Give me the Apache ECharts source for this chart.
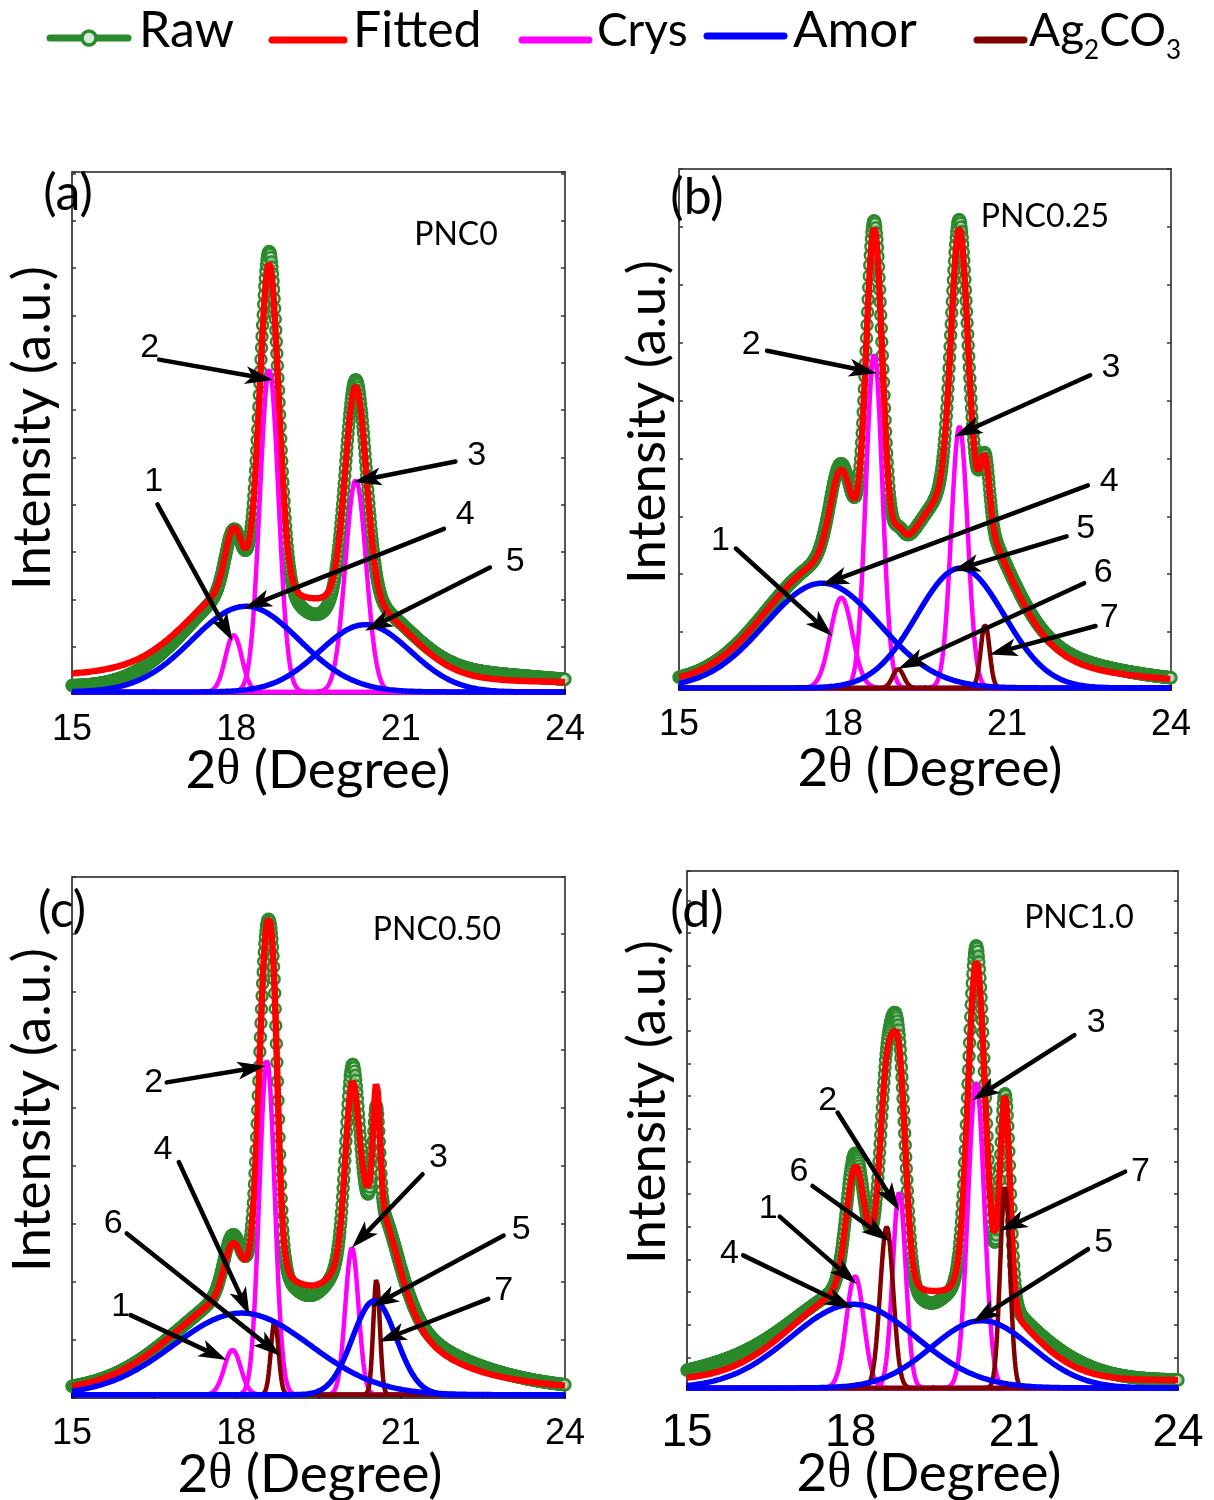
<!DOCTYPE html>
<html><head><meta charset="utf-8">
<script src="https://cdn.jsdelivr.net/npm/echarts@6/dist/echarts.min.js"></script>
<style>html,body{margin:0;padding:0;background:#fff}#c{width:1214px;height:1500px}</style>
</head><body><div id="c"></div>
<script>
// ================= DATA =================
const X_MIN = 15, X_MAX = 24;
const xTicks = [15, 18, 21, 24];
const sampleNames = ['PNC0', 'PNC0.25', 'PNC0.50', 'PNC1.0'];
const panelLetters = ['(a)', '(b)', '(c)', '(d)'];

// Peak components: [centre 2θ (deg), height (a.u.), sigma (deg)]
// (a) PNC0
const aCrys = [[17.95, 140, 0.15], [18.6, 790, 0.17], [20.18, 520, 0.19]];
const aAmor = [[18.17, 210, 0.98], [20.35, 165, 0.83]];
const aAg = [];
const aBase = 12;
const aBgLor = [[17.5, 45, 4.0]];
const aRawDev = [[15.5, -32, 1.3], [18.6, 30, 0.12], [19.45, -40, 0.3], [20.18, 15, 0.15], [22.5, 15, 1.2]];

// (b) PNC0.25
const bCrys = [[17.97, 222, 0.2], [18.57, 819, 0.15], [20.13, 642, 0.15]];
const bAmor = [[17.62, 257, 1.05], [20.15, 294, 0.8]];
const bAg = [[19.01, 47, 0.1], [20.6, 157, 0.08]];
const bBase = 0;
const bBgLor = [[20.0, 180, 1.5]];
const bRawDev = [[17.9, 15, 0.2], [18.57, 18, 0.1], [20.07, 22, 0.1], [22.3, 12, 1.0]];

// (c) PNC0.50
const cCrys = [[17.93, 110, 0.15], [18.56, 820, 0.14], [20.11, 360, 0.12]];
const cAmor = [[18.1, 200, 1.25], [20.52, 230, 0.4]];
const cAg = [[18.7, 180, 0.07], [20.56, 285, 0.06]];
const cBase = 0;
const cBgLor = [[20.4, 220, 1.2], [18.6, 60, 0.5]];
const cRawDev = [[17.9, 20, 0.2], [19.3, -25, 0.3], [20.13, 40, 0.1], [20.41, -20, 0.08], [20.58, -60, 0.07], [22.0, 15, 1.0]];

// (d) PNC1.0
const dCrys = [[18.08, 275, 0.16], [18.89, 480, 0.12], [20.3, 750, 0.15]];
const dAmor = [[18.05, 205, 1.15], [20.4, 165, 0.92]];
const dAg = [[18.66, 395, 0.12], [20.83, 495, 0.09]];
const dBase = 18;
const dBgLor = [[18.6, 120, 0.35], [20.45, 100, 0.3]];
const dRawDev = [[15.8, 25, 1.0], [18.06, 30, 0.12], [18.8, 45, 0.1], [19.46, -30, 0.25], [20.27, 35, 0.1], [20.66, -30, 0.08], [21.8, 20, 0.8]];

// Peak-number annotations: text, and [tail x, tail y, tip x, tip y, label x, label y] in data units
const aArrowText = ['1', '2', '3', '4', '5'];
const aArrowPos = [[16.56, 460, 17.93, 125, 16.49, 515], [16.59, 815, 18.67, 765, 16.42, 845], [22.0, 565, 20.14, 515, 22.39, 580], [21.79, 400, 18.14, 205, 22.18, 435], [22.63, 305, 20.35, 150, 23.09, 320]];
const bArrowText = ['1', '2', '3', '4', '5', '6', '7'];
const bArrowPos = [[16.04, 342, 17.81, 127, 15.76, 362], [16.61, 827, 18.62, 772, 16.32, 842], [22.52, 767, 20.04, 617, 22.9, 787], [22.48, 497, 17.6, 252, 22.87, 507], [22.09, 372, 20.0, 287, 22.44, 392], [22.41, 257, 19.01, 47, 22.76, 282], [22.62, 152, 20.68, 82, 22.87, 172]];
const cArrowText = ['1', '2', '3', '4', '5', '6', '7'];
const cArrowPos = [[16.07, 195, 17.82, 85, 15.89, 215], [16.73, 765, 18.53, 805, 16.49, 765], [21.4, 540, 20.11, 360, 21.69, 580], [16.95, 570, 18.24, 195, 16.66, 600], [22.88, 390, 20.46, 215, 23.2, 405], [16.0, 395, 18.81, 95, 15.75, 420], [22.6, 235, 20.6, 130, 22.88, 255]];
const dArrowText = ['1', '2', '3', '4', '5', '6', '7'];
const dArrowPos = [[16.7, 420, 18.11, 255, 16.49, 440], [17.76, 675, 18.89, 435, 17.58, 705], [22.1, 865, 20.23, 705, 22.5, 895], [16.03, 325, 18.04, 195, 15.78, 330], [22.35, 340, 20.23, 160, 22.64, 355], [17.3, 495, 18.71, 360, 17.05, 530], [23.03, 530, 20.73, 385, 23.31, 530]];

// ================= LAYOUT =================
const layouts = [
  { grid: [72, 172, 493, 522], yMin: -5, yMax: 1275, frame: 1280, tickInt: 116, tickSize: 36, tickMargin: 18,
    letter: [68, 194], name: [456, 235], yl: [33, 428], xl: [318, 771] },
  { grid: [679, 169, 492, 521], yMin: -5, yMax: 1273, frame: 1278, tickInt: 142, tickSize: 36, tickMargin: 17,
    letter: [697, 198], name: [1045, 217], yl: [648, 422], xl: [930, 769] },
  { grid: [72, 877, 493, 521], yMin: -8, yMax: 1268, frame: 1276, tickInt: 142, tickSize: 36, tickMargin: 18,
    letter: [62, 911], name: [437, 930], yl: [33, 1110], xl: [310, 1475] },
  { grid: [687, 871, 491, 519], yMin: -5, yMax: 1267, frame: 1272, tickInt: 80, tickSize: 46, tickMargin: 20,
    letter: [697, 911], name: [1079, 918], yl: [648, 1102], xl: [929, 1474] }
];

const panelData = [
  { crys: aCrys, amor: aAmor, ag: aAg, base: aBase, bg: aBgLor, dev: aRawDev, arrows: aArrowPos, arrowText: aArrowText },
  { crys: bCrys, amor: bAmor, ag: bAg, base: bBase, bg: bBgLor, dev: bRawDev, arrows: bArrowPos, arrowText: bArrowText },
  { crys: cCrys, amor: cAmor, ag: cAg, base: cBase, bg: cBgLor, dev: cRawDev, arrows: cArrowPos, arrowText: cArrowText },
  { crys: dCrys, amor: dAmor, ag: dAg, base: dBase, bg: dBgLor, dev: dRawDev, arrows: dArrowPos, arrowText: dArrowText }
];

const COL = { raw: '#2b8a2b', fit: '#ff0000', crys: '#ff00ff', amor: '#0000ff', ag: '#800000' };
const CAL = 'Lato, "Open Sans", sans-serif';
const ARIAL = 'Liberation Sans';

// ================= BUILD =================
function gauss(x, p) { const d = x - p[0]; return p[1] * Math.exp(-d * d / (2 * p[2] * p[2])); }
function lor(x, p) { const d = (x - p[0]) / p[2]; return p[1] / (1 + d * d); }
function xgrid(step) { const a = []; const n = Math.round((X_MAX - X_MIN) / step); for (let i = 0; i <= n; i++) a.push(+(X_MIN + i * step).toFixed(4)); return a; }

const option = { animation: false, grid: [], xAxis: [], yAxis: [], series: [], graphic: { elements: [] } };
const G = option.graphic.elements;

function txt(x, y, text, font, extra) {
  return Object.assign({ type: 'text', x: x, y: y, silent: true, z: 100,
    style: { text: text, font: font, fill: '#000', align: 'center', verticalAlign: 'middle', textAlign: 'center', textVerticalAlign: 'middle' } }, extra || {});
}

panelData.forEach((P, i) => {
  const L = layouts[i];
  option.grid.push({ left: L.grid[0], top: L.grid[1], width: L.grid[2], height: L.grid[3] });
  option.xAxis.push({ gridIndex: i, type: 'value', min: X_MIN, max: X_MAX, interval: 1.5, position: 'bottom',
    axisLine: { show: true, onZero: false, lineStyle: { color: '#000', width: 1.5 } },
    axisTick: { show: true, inside: true, length: 5, lineStyle: { color: '#000', width: 2 } },
    axisLabel: { show: true, showMinLabel: true, showMaxLabel: true, margin: L.tickMargin, fontSize: L.tickSize,
      fontFamily: ARIAL, color: '#000',
      formatter: v => (xTicks.indexOf(v) >= 0 ? String(v) : '') },
    splitLine: { show: false } });
  option.xAxis.push({ gridIndex: i, type: 'value', min: X_MIN, max: X_MAX, position: 'top',
    axisLine: { show: true, onZero: false, lineStyle: { color: '#555', width: 2 } },
    axisTick: { show: false }, axisLabel: { show: false }, splitLine: { show: false } });
  option.yAxis.push({ gridIndex: i, type: 'value', min: L.yMin, max: L.yMax, position: 'left',
    axisLine: { show: true, onZero: false, lineStyle: { color: '#111', width: 1.5 } },
    axisTick: { show: false }, axisLabel: { show: false }, splitLine: { show: false } });
  option.yAxis.push({ gridIndex: i, type: 'value', min: 0, max: L.frame, interval: L.tickInt, position: 'left',
    axisLine: { show: false }, axisTick: { show: true, inside: true, length: 4, lineStyle: { color: '#333', width: 1.5 } },
    axisLabel: { show: false }, splitLine: { show: false } });
  option.yAxis.push({ gridIndex: i, type: 'value', min: 0, max: L.frame, interval: L.tickInt, position: 'right',
    axisLine: { show: true, onZero: false, lineStyle: { color: '#555', width: 2 } },
    axisTick: { show: true, inside: true, length: 4, lineStyle: { color: '#333', width: 1.5 } },
    axisLabel: { show: false }, splitLine: { show: false } });

  const xi = 2 * i, yi = 3 * i;
  const comps = [].concat(P.crys, P.ag, P.amor);
  const fitAt = x => P.base + P.bg.reduce((s, p) => s + lor(x, p), 0) + comps.reduce((s, p) => s + gauss(x, p), 0);
  const rawAt = x => fitAt(x) + P.dev.reduce((s, p) => s + gauss(x, p), 0);

  const xs = xgrid(0.01);
  const rawPts = xs.map(x => [x, rawAt(x)]);

  option.series.push({ type: 'line', xAxisIndex: xi, yAxisIndex: yi, data: rawPts, showSymbol: false, z: 1,
    lineStyle: { color: COL.raw, width: 3 }, silent: true });
  option.series.push({ type: 'scatter', xAxisIndex: xi, yAxisIndex: yi, data: rawPts, symbol: 'circle', symbolSize: 11,
    large: false, z: 1, silent: true,
    itemStyle: { color: 'rgba(215,235,215,0.3)', borderColor: COL.raw, borderWidth: 2.4, opacity: 1 } });
  option.series.push({ type: 'line', xAxisIndex: xi, yAxisIndex: yi, data: xs.map(x => [x, fitAt(x)]), showSymbol: false,
    z: 2, silent: true, lineStyle: { color: COL.fit, width: 6.5 } });
  P.crys.forEach(p => option.series.push({ type: 'line', xAxisIndex: xi, yAxisIndex: yi, showSymbol: false, z: 3, silent: true,
    data: xs.map(x => [x, gauss(x, p)]), lineStyle: { color: COL.crys, width: 4.5 } }));
  P.ag.forEach(p => option.series.push({ type: 'line', xAxisIndex: xi, yAxisIndex: yi, showSymbol: false, z: 4, silent: true,
    data: xs.map(x => [x, gauss(x, p)]), lineStyle: { color: COL.ag, width: 4.5 } }));
  P.amor.forEach(p => option.series.push({ type: 'line', xAxisIndex: xi, yAxisIndex: yi, showSymbol: false, z: 5, silent: true,
    data: xs.map(x => [x, gauss(x, p)]), lineStyle: { color: COL.amor, width: 5.5 } }));

  const labels = P.arrowText;
  option.series.push({ type: 'custom', xAxisIndex: xi, yAxisIndex: yi, z: 10, silent: true, clip: false,
    data: P.arrows, encode: { x: [0, 2, 4], y: [1, 3, 5] },
    renderItem: function (params, api) {
      const p1 = api.coord([api.value(0), api.value(1)]);
      const p2 = api.coord([api.value(2), api.value(3)]);
      const pl = api.coord([api.value(4), api.value(5)]);
      const dx = p2[0] - p1[0], dy = p2[1] - p1[1], len = Math.hypot(dx, dy);
      const ux = dx / len, uy = dy / len, nx = -uy, ny = ux;
      const HL = 28, HW = 9, NT = 7;
      const bx = p2[0] - ux * HL, by = p2[1] - uy * HL;
      const mx = p2[0] - ux * (HL - NT), my = p2[1] - uy * (HL - NT);
      return { type: 'group', children: [
        { type: 'line', shape: { x1: p1[0], y1: p1[1], x2: mx, y2: my }, style: { stroke: '#000', lineWidth: 4.5, lineCap: 'round' } },
        { type: 'polygon', shape: { points: [[p2[0], p2[1]], [bx + nx * HW, by + ny * HW], [mx, my], [bx - nx * HW, by - ny * HW]] }, style: { fill: '#000' } },
        { type: 'text', x: pl[0], y: pl[1], style: { text: labels[params.dataIndex], font: '34px "Liberation Sans"', fill: '#000',
          align: 'center', verticalAlign: 'middle', textAlign: 'center', textVerticalAlign: 'middle' } }
      ] };
    } });

  // panel texts
  G.push(txt(L.letter[0], L.letter[1], panelLetters[i], '50px ' + CAL));
  G.push(txt(L.name[0], L.name[1], sampleNames[i], '32px ' + CAL));
  G.push(txt(L.yl[0], L.yl[1], 'Intensity (a.u.)', '53px ' + CAL, { rotation: Math.PI / 2 }));
  const xl = txt(L.xl[0], L.xl[1], '2{t|θ} (Degree)', '53px ' + CAL);
  xl.style.rich = { t: { fontFamily: 'Liberation Serif', fontSize: 50 } };
  G.push(xl);
});

// ================= LEGEND (drawn) =================
const legendItems = [
  { name: 'Raw', color: COL.raw, x1: 50, x2: 128, y: 38, tx: 139, fs: 50, marker: true },
  { name: 'Fitted', color: COL.fit, x1: 272, x2: 344, y: 40, tx: 353, fs: 50 },
  { name: 'Crys', color: COL.crys, x1: 522, x2: 589, y: 40, tx: 597, fs: 46 },
  { name: 'Amor', color: COL.amor, x1: 707, x2: 784, y: 36, tx: 793, fs: 51 },
  { name: 'Ag{s|2}CO{s|3}', color: COL.ag, x1: 977, x2: 1024, y: 40, tx: 1029, fs: 46 }
];
legendItems.forEach(it => {
  G.push({ type: 'line', silent: true, z: 100, shape: { x1: it.x1, y1: it.y, x2: it.x2, y2: it.y }, style: { stroke: it.color, lineWidth: 7, lineCap: 'round' } });
  if (it.marker) G.push({ type: 'circle', silent: true, z: 101, shape: { cx: 89, cy: it.y, r: 7 }, style: { fill: '#d8ead8', stroke: it.color, lineWidth: 3.5 } });
  const t = txt(it.tx, 31, it.name, it.fs + 'px ' + CAL);
  t.style.align = 'left'; t.style.textAlign = 'left';
  t.style.rich = { s: { fontFamily: 'Lato', fontSize: 26, padding: [40, 0, 0, 0], verticalAlign: 'top' } };
  G.push(t);
});

const chart = echarts.init(document.getElementById('c'), null, { renderer: 'canvas' });
chart.setOption(option);
</script></body></html>
